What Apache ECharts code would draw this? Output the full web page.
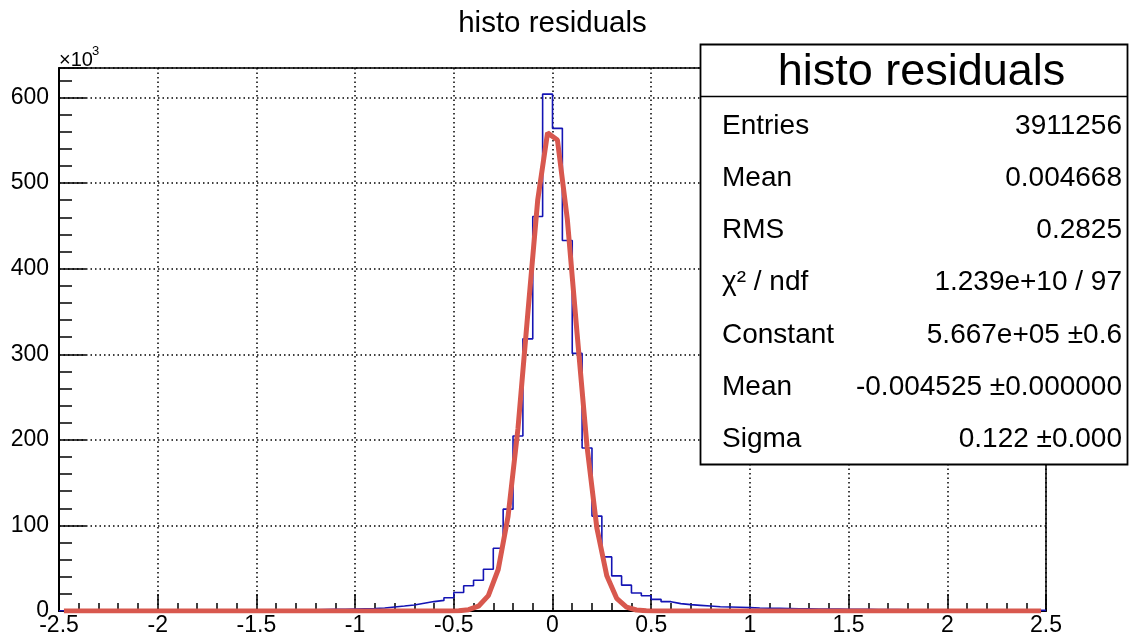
<!DOCTYPE html>
<html>
<head>
<meta charset="utf-8">
<script src="https://cdn.jsdelivr.net/npm/echarts@6/dist/echarts.min.js"></script>
<style>
html,body{margin:0;padding:0;background:#fff;}
#chart{width:1130px;height:637px;}
</style>
</head>
<body>
<div id="chart"></div>
<script>
// Histogram definition (100 bins from -2.5 to 2.5), counts in units of 10^3
const binLow = -2.5;
const binWidth = 0.05;
const histCounts = [
  0.3,0.3,0.3,0.35,0.35,0.4,0.4,0.45,0.45,0.5,
  0.5,0.55,0.6,0.6,0.65,0.7,0.75,0.8,0.9,0.95,
  1.0,1.1,1.2,1.3,1.4,1.5,1.7,1.9,2.1,2.4,
  2.7,3.0,3.5,4.7,5.8,7.0,9.0,11.0,12.4,15.5,
  21.7,29.5,36,48.8,73.3,119,204.5,318,461,604,
  564,433,301,190.5,110.9,63.2,41,30.2,21,17.8,
  13.6,10.9,8.6,7.4,6.6,5.8,5.0,4.7,4.3,3.9,
  3.5,3.3,3.1,2.9,2.7,2.6,2.4,2.3,2.2,2.1,
  2.0,1.9,1.8,1.7,1.6,1.5,1.45,1.4,1.3,1.25,
  1.2,1.15,1.1,1.05,1.0,0.95,0.9,0.85,0.8,0.75
];
// Gaussian fit curve read at bin centres (units of 10^3)
const fitValues = [
  0,0,0,0,0,0,0,0,0,0,
  0,0,0,0,0,0,0,0,0,0,
  0,0,0,0,0,0,0,0,0,0,
  0,0,0,0,0,0,0,0,0,0,
  0.3,1.5,5.6,18,48.5,110.7,213,348,480,558.7,
  550.4,458,323,192,96.6,41.1,14.8,4.5,1.2,0.25,
  0,0,0,0,0,0,0,0,0,0,
  0,0,0,0,0,0,0,0,0,0,
  0,0,0,0,0,0,0,0,0,0,
  0,0,0,0,0,0,0,0,0,0
];
const xTicks = [-2.5,-2,-1.5,-1,-0.5,0,0.5,1,1.5,2,2.5];
const yTicks = [0,100,200,300,400,500,600];
const chartTitle = 'histo residuals';
const statsNames = ['Entries','Mean','RMS','χ² / ndf','Constant','Mean','Sigma'];
const statsValues = ['3911256','0.004668','0.2825','1.239e+10 / 97','5.667e+05 ±0.6','-0.004525 ±0.000000','0.122 ±0.000'];

const histData = histCounts.map((v, i) => [+(binLow + i * binWidth).toFixed(3), v]);
histData.push([+(binLow + histCounts.length * binWidth).toFixed(3), histCounts[histCounts.length - 1]]);
const fitData = fitValues.map((v, i) => [+(binLow + (i + 0.5) * binWidth).toFixed(4), v]);

const FONT = '"Liberation Sans", Arial, Helvetica, sans-serif';
const chart = echarts.init(document.getElementById('chart'), null, {renderer: 'canvas'});

const statsRowY = [126, 178, 230.5, 282.5, 335, 387, 439];
const statsGraphics = [];
statsGraphics.push({
  type: 'rect', z: 100,
  shape: {x: 700.5, y: 44.5, width: 427, height: 420},
  style: {fill: '#fff', stroke: '#000', lineWidth: 1.8}
});
statsGraphics.push({
  type: 'line', z: 101,
  shape: {x1: 700.5, y1: 96.5, x2: 1127.5, y2: 96.5},
  style: {stroke: '#000', lineWidth: 1.5}
});
statsGraphics.push({
  type: 'text', z: 101,
  style: {text: chartTitle, x: 921.5, y: 73, align: 'center', verticalAlign: 'middle',
          fontSize: 45, fontFamily: FONT, fill: '#000'}
});
statsNames.forEach((n, i) => {
  statsGraphics.push({
    type: 'text', z: 101,
    style: {text: n, x: 722, y: statsRowY[i], align: 'left', verticalAlign: 'middle',
            fontSize: 28, fontFamily: FONT, fill: '#000'}
  });
  statsGraphics.push({
    type: 'text', z: 101,
    style: {text: statsValues[i], x: 1122, y: statsRowY[i], align: 'right', verticalAlign: 'middle',
            fontSize: 28, fontFamily: FONT, fill: '#000'}
  });
});

const option = {
  animation: false,
  backgroundColor: '#fff',
  grid: {left: 59, right: 84, top: 68, bottom: 25, show: true, borderColor: '#000', borderWidth: 1.5, backgroundColor: 'transparent', containLabel: false},
  xAxis: {
    type: 'value', min: xTicks[0], max: xTicks[xTicks.length - 1], interval: 0.5,
    axisLine: {show: true, onZero: false, lineStyle: {color: '#000', width: 2}},
    axisTick: {show: true, inside: true, length: 17, lineStyle: {color: '#000', width: 1.5}},
    minorTick: {show: true, splitNumber: 5, length: 8, lineStyle: {color: '#000', width: 1.5}},
    splitLine: {show: true, lineStyle: {color: '#000', width: 1.5, type: [1.5, 3]}},
    axisLabel: {show: true, margin: 3, fontSize: 23, fontFamily: FONT, color: '#000',
      showMinLabel: true, showMaxLabel: true,
      formatter: v => (xTicks.some(t => Math.abs(t - v) < 1e-9) ? String(v) : '')}
  },
  yAxis: {
    type: 'value', min: 0, max: 634.5, interval: 100,
    axisLine: {show: true, onZero: false, lineStyle: {color: '#000', width: 2}},
    axisTick: {show: true, inside: true, length: 27, lineStyle: {color: '#000', width: 1.5}},
    minorTick: {show: true, splitNumber: 5, length: 13, lineStyle: {color: '#000', width: 1.5}},
    splitLine: {show: true, lineStyle: {color: '#000', width: 1.5, type: [1.5, 3]}},
    axisLabel: {show: true, margin: 10, fontSize: 23, fontFamily: FONT, color: '#000',
      showMaxLabel: false,
      formatter: v => (yTicks.indexOf(v) >= 0 ? String(v) : '')}
  },
  series: [
    {
      type: 'line', name: 'histo', data: histData, step: 'end', symbol: 'none',
      lineStyle: {color: '#1414b4', width: 1.6}, z: 3
    },
    {
      type: 'line', name: 'fit', data: fitData, symbol: 'none', smooth: false,
      lineStyle: {color: '#d8584e', width: 5}, z: 4
    }
  ],
  graphic: [
    {
      type: 'text',
      style: {text: chartTitle, x: 552.5, y: 24, align: 'center', verticalAlign: 'middle',
              fontSize: 29.5, fontFamily: FONT, fill: '#000'}
    },
    {
      type: 'text',
      style: {text: '×10', x: 59, y: 60, align: 'left', verticalAlign: 'middle',
              fontSize: 20, fontFamily: FONT, fill: '#000'}
    },
    {
      type: 'text',
      style: {text: '3', x: 92, y: 51, align: 'left', verticalAlign: 'middle',
              fontSize: 13, fontFamily: FONT, fill: '#000'}
    }
  ].concat(statsGraphics)
};
chart.setOption(option);
</script>
</body>
</html>
